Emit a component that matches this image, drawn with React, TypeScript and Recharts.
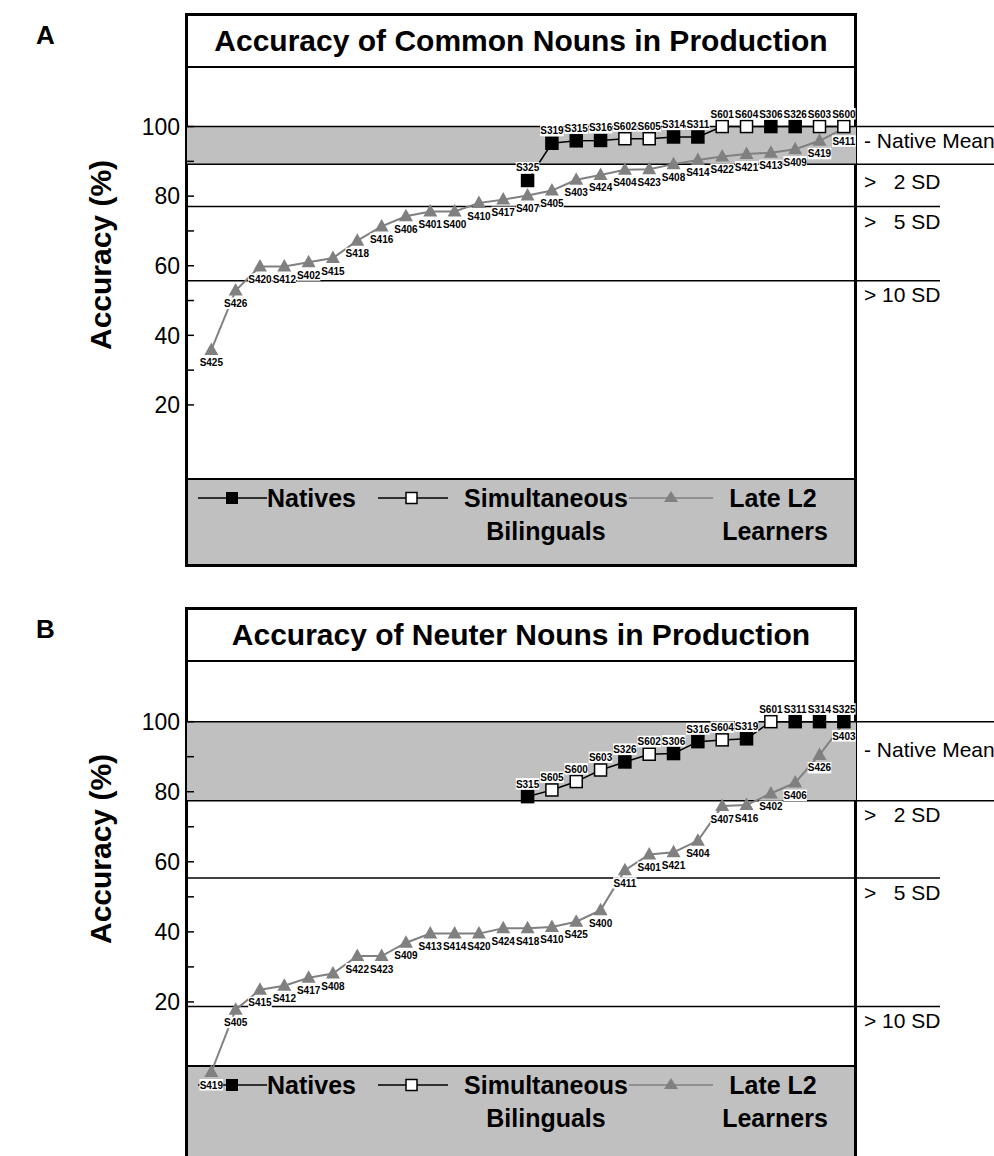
import React from 'react';
import { LineChart, Line, XAxis, YAxis, ReferenceArea, ReferenceLine } from 'recharts';

const FONT = '"Liberation Sans", Arial, Helvetica, sans-serif';

// A: common nouns, late L2 learners (sorted)
const commonL2Ids = ['S425', 'S426', 'S420', 'S412', 'S402', 'S415', 'S418', 'S416', 'S406', 'S401', 'S400', 'S410', 'S417', 'S407', 'S405', 'S403', 'S424', 'S404', 'S423', 'S408', 'S414', 'S422', 'S421', 'S413', 'S409', 'S419', 'S411'];
const commonL2Acc = [35.8, 52.9, 59.8, 59.8, 61, 62.2, 67.2, 71.3, 74.2, 75.6, 75.6, 78, 79, 80.2, 81.6, 84.7, 86.1, 87.6, 87.7, 89.2, 90.4, 91.4, 92.1, 92.5, 93.5, 95.9, 99.5];
// A: natives (N) and simultaneous bilinguals (S)
const commonNatIds = ['S325', 'S319', 'S315', 'S316', 'S602', 'S605', 'S314', 'S311', 'S601', 'S604', 'S306', 'S326', 'S603', 'S600'];
const commonNatGroup = ['N', 'N', 'N', 'N', 'S', 'S', 'N', 'N', 'S', 'S', 'N', 'N', 'S', 'S'];
const commonNatAcc = [84.5, 95.2, 95.9, 96, 96.5, 96.5, 97, 97, 100, 100, 100, 100, 100, 100];
const commonCutoffs = [100, 89.2, 77, 55.7];

// B: neuter nouns
const neuterL2Ids = ['S419', 'S405', 'S415', 'S412', 'S417', 'S408', 'S422', 'S423', 'S409', 'S413', 'S414', 'S420', 'S424', 'S418', 'S410', 'S425', 'S400', 'S411', 'S401', 'S421', 'S404', 'S407', 'S416', 'S402', 'S406', 'S426', 'S403'];
const neuterL2Acc = [0, 17.8, 23.5, 24.6, 26.9, 28.1, 33.1, 33.1, 36.9, 39.5, 39.5, 39.5, 41, 41, 41.4, 42.9, 46.2, 57.6, 62.1, 62.7, 66, 75.9, 76.2, 79.5, 82.6, 90.5, 99.6];
const neuterNatIds = ['S315', 'S605', 'S600', 'S603', 'S326', 'S602', 'S306', 'S316', 'S604', 'S319', 'S601', 'S311', 'S314', 'S325'];
const neuterNatGroup = ['N', 'S', 'S', 'S', 'N', 'S', 'N', 'N', 'S', 'N', 'S', 'N', 'N', 'N'];
const neuterNatAcc = [78.6, 80.5, 82.9, 86.2, 88.5, 90.7, 90.9, 94.3, 94.8, 95.1, 100, 100, 100, 100];
const neuterCutoffs = [100, 77.4, 55.4, 18.7];

const cutoffNames = ['- Native Mean', '>   2 SD', '>   5 SD', '> 10 SD'];
const yTicks = [20, 30, 40, 50, 60, 70, 80, 90, 100];

type Row = {
  x: number;
  l2: number;
  l2Id: string;
  nat: number | null;
  natId: string | null;
  natGroup: string | null;
};

function buildRows(l2Ids: string[], l2Acc: number[], natIds: string[], natAcc: number[], natGroup: string[]): Row[] {
  const start = l2Ids.length - natIds.length;
  return l2Ids.map((id, i) => {
    const j = i - start;
    const has = j >= 0;
    return {
      x: i,
      l2: l2Acc[i],
      l2Id: id,
      nat: has ? natAcc[j] : null,
      natId: has ? natIds[j] : null,
      natGroup: has ? natGroup[j] : null,
    };
  });
}

const commonRows = buildRows(commonL2Ids, commonL2Acc, commonNatIds, commonNatAcc, commonNatGroup);
const neuterRows = buildRows(neuterL2Ids, neuterL2Acc, neuterNatIds, neuterNatAcc, neuterNatGroup);

function Tag({ x, y, text }: { x: number; y: number; text: string }) {
  const w = text.length * 5.9;
  return (
    <g>
      <rect x={x - w / 2} y={y - 6} width={w} height={11.5} fill="#fff" />
      <text x={x} y={y} dy="0.35em" textAnchor="middle" fontSize={10} fontWeight="bold" fontFamily={FONT} fill="#000">
        {text}
      </text>
    </g>
  );
}

const l2Dot = (props: any) => {
  const { cx, cy, index, payload } = props;
  if (cx == null || cy == null) return <g key={`l2-${index}`} />;
  return (
    <g key={`l2-${index}`}>
      <polygon points={`${cx},${cy - 7.5} ${cx - 7},${cy + 5} ${cx + 7},${cy + 5}`} fill="#808080" />
      <Tag x={cx} y={cy + 13} text={payload.l2Id} />
    </g>
  );
};

const natDot = (props: any) => {
  const { cx, cy, index, payload } = props;
  if (cx == null || cy == null || payload.nat == null) return <g key={`nat-${index}`} />;
  const filled = payload.natGroup === 'N';
  return (
    <g key={`nat-${index}`}>
      <rect x={cx - 6} y={cy - 6} width={12} height={12} fill={filled ? '#000' : '#fff'} stroke="#000" strokeWidth={1.5} />
      <Tag x={cx} y={cy - 12.5} text={payload.natId} />
    </g>
  );
};

const YTick = (props: any) => {
  const { x, y, payload } = props;
  const major = payload.value % 20 === 0;
  return (
    <g>
      <line x1={x} y1={y} x2={x + 7} y2={y} stroke="#000" strokeWidth={1.5} />
      {major && (
        <text x={x - 7} y={y} dy="0.36em" textAnchor="end" fontSize={23} fontFamily={FONT} fill="#000">
          {payload.value}
        </text>
      )}
    </g>
  );
};

const cutoffShape = (i: number, labelDy: number) => (props: any) => {
  const { x1, y1, x2 } = props;
  const reach = i < 2 ? 138 : 84;
  return (
    <g>
      <line x1={x1} y1={y1} x2={x2 + reach} y2={y1} stroke="#000" strokeWidth={1.5} />
      <text x={x2 + 8} y={y1 + labelDy} dy="0.35em" fontSize={21} fontFamily={FONT} fill="#000" xmlSpace="preserve" style={{ whiteSpace: 'pre' }}>
        {cutoffNames[i]}
      </text>
    </g>
  );
};

function LegendBox({ top, height }: { top: number; height: number }) {
  const t: React.CSSProperties = { fontFamily: FONT, fontWeight: 'bold', fontSize: 25 } as any;
  return (
    <div
      style={{
        position: 'absolute',
        left: 185,
        top,
        width: 672,
        height,
        background: '#c0c0c0',
        border: '3px solid #000',
        borderTop: '2px solid #000',
        boxSizing: 'border-box',
      }}
    >
      <svg width={672} height={100} style={{ position: 'absolute', left: -3, top: -2 }}>
        <line x1={13} y1={20} x2={82} y2={20} stroke="#000" strokeWidth={1.5} />
        <rect x={41} y={14} width={12} height={12} fill="#000" />
        <text x={82} y={20} dy="0.35em" style={t}>Natives</text>
        <line x1={193} y1={20} x2={263} y2={20} stroke="#000" strokeWidth={1.5} />
        <rect x={221} y={14.5} width={11} height={11} fill="#fff" stroke="#000" strokeWidth={1.5} />
        <text x={361} y={20} dy="0.35em" textAnchor="middle" style={t}>Simultaneous</text>
        <text x={361} y={53} dy="0.35em" textAnchor="middle" style={t}>Bilinguals</text>
        <line x1={444} y1={20} x2={528} y2={20} stroke="#808080" strokeWidth={1.5} />
        <polygon points="486,13 479,24 493,24" fill="#808080" />
        <text x={588} y={20} dy="0.35em" textAnchor="middle" style={t}>Late L2</text>
        <text x={590} y={53} dy="0.35em" textAnchor="middle" style={t}>Learners</text>
      </svg>
    </div>
  );
}

type PanelProps = {
  letter: string;
  title: string;
  top: number;
  rows: Row[];
  cutoffs: number[];
  cutoffDy: number[];
  yDomain: [number, number];
  legendTop: number;
};

function Panel({ letter, title, top, rows, cutoffs, cutoffDy, yDomain, legendTop }: PanelProps) {
  return (
    <div style={{ position: 'absolute', left: 0, top, width: 994, height: 590 }}>
      <div style={{ position: 'absolute', left: 36, top: 20, fontFamily: FONT, fontWeight: 'bold', fontSize: 26 }}>
        {letter}
      </div>
      {/* frame */}
      <div
        style={{
          position: 'absolute',
          left: 185,
          top: 13,
          width: 672,
          height: 554,
          border: '3px solid #000',
          boxSizing: 'border-box',
          background: '#fff',
          overflow: 'hidden',
        }}
      >
        <div
          style={{
            height: 50,
            borderBottom: '2px solid #000',
            boxSizing: 'content-box',
            display: 'flex',
            alignItems: 'center',
            justifyContent: 'center',
            fontFamily: FONT,
            fontWeight: 'bold',
            fontSize: 30,
          }}
        >
          {title}
        </div>
      </div>
      <LegendBox top={legendTop} height={567 - legendTop} />
      <div style={{ position: 'absolute', left: 0, top: 0 }}>
        <LineChart width={994} height={570} data={rows} margin={{ top: 66, right: 138, bottom: 92, left: 0 }}>
          <XAxis type="number" dataKey="x" domain={[-1, 26.5]} hide />
          <YAxis
            width={187}
            domain={yDomain}
            ticks={yTicks}
            interval={0}
            axisLine={false}
            tickLine={false}
            tickSize={0}
            tickMargin={0}
            tick={YTick}
          />
          <ReferenceArea y1={cutoffs[1]} y2={cutoffs[0]} fill="#c0c0c0" fillOpacity={1} stroke="none" />
          {cutoffs.map((c, i) => (
            <ReferenceLine key={i} y={c} shape={cutoffShape(i, cutoffDy[i])} />
          ))}
          <Line
            dataKey="l2"
            stroke="#808080"
            strokeWidth={2}
            dot={l2Dot}
            activeDot={false}
            isAnimationActive={false}
          />
          <Line
            dataKey="nat"
            stroke="#000"
            strokeWidth={1.5}
            dot={natDot}
            activeDot={false}
            isAnimationActive={false}
          />
        </LineChart>
        <svg width={130} height={570} style={{ position: 'absolute', left: 0, top: 0 }}>
          <text
            transform="translate(100, 255) rotate(-90)"
            textAnchor="middle"
            dy="0.35em"
            fontFamily={FONT}
            fontWeight="bold"
            fontSize={30}
          >
            Accuracy (%)
          </text>
        </svg>
      </div>
    </div>
  );
}

export default function App() {
  return (
    <div style={{ position: 'absolute', left: 0, top: 0, width: 994, height: 1156, overflow: 'hidden', background: '#fff' }}>
      <Panel
        letter="A"
        title="Accuracy of Common Nouns in Production"
        top={0}
        rows={commonRows}
        cutoffs={commonCutoffs}
        cutoffDy={[14, 18, 15, 14]}
        yDomain={[-1, 117.4]}
        legendTop={478}
      />
      <Panel
        letter="B"
        title="Accuracy of Neuter Nouns in Production"
        top={594}
        rows={neuterRows}
        cutoffs={neuterCutoffs}
        cutoffDy={[28, 14, 15, 14]}
        yDomain={[0, 117.6]}
        legendTop={471}
      />
    </div>
  );
}
